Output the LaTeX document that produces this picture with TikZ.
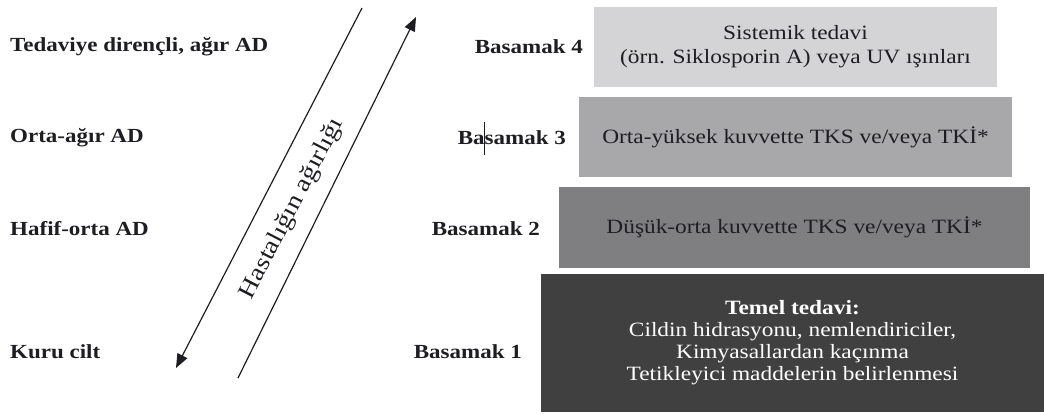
\documentclass[tikz,border=0pt]{standalone}
\usepackage{fontspec}
\setmainfont{Liberation Serif}[FakeStretch=1.15]
\usetikzlibrary{arrows.meta}
\definecolor{gfour}{HTML}{D4D4D6}
\definecolor{gthree}{HTML}{A8A8AA}
\definecolor{gtwo}{HTML}{7F7F81}
\definecolor{gone}{HTML}{404040}
\definecolor{ink}{HTML}{1E1E22}
\tikzset{
  lab/.style={font=\fontsize{20}{23}\selectfont\bfseries, text=ink, inner sep=0pt},
  stepbox/.style={rectangle, inner sep=0pt, align=center, text=ink,
     font=\fontsize{20.3}{24}\selectfont},
  arr/.style={line width=1.2pt, draw=ink, -{Triangle[length=14pt,width=11pt]}}
}
\begin{document}
\begin{tikzpicture}[x=1pt,y=-1pt]
\useasboundingbox (0,0) rectangle (1044,413);
% left labels
\node[lab, anchor=west] (l4) at (10,47) {Tedaviye dirençli, ağır AD};
\node[lab, anchor=west] (l3) at (10,138) {Orta-ağır AD};
\node[lab, anchor=west] (l2) at (10,229) {Hafif-orta AD};
\node[lab, anchor=west] (l1) at (10,352) {Kuru cilt};
% right labels
\node[lab, anchor=east] (b4) at (583,47) {Basamak 4};
\node[lab, anchor=east] (b3) at (566,138) {Basamak 3};
\node[lab, anchor=east] (b2) at (540,229) {Basamak 2};
\node[lab, anchor=east] (b1) at (522,352) {Basamak 1};
\coordinate (cura) at (484,122);
\coordinate (curb) at (484,155);
\draw[line width=0.9pt, ink] (cura) -- (curb);
% boxes
\node[stepbox, fill=gfour, minimum width=403pt, minimum height=80pt] (s4) at (795.5,47)
  {Sistemik tedavi\\(örn. Siklosporin A) veya UV ışınları};
\node[stepbox, fill=gthree, minimum width=433pt, minimum height=80pt] (s3) at (795.5,137)
  {Orta-yüksek kuvvette TKS ve/veya TKİ*};
\node[stepbox, fill=gtwo, minimum width=471pt, minimum height=81pt] (s2) at (794.5,227.5)
  {Düşük-orta kuvvette TKS ve/veya TKİ*};
\node[stepbox, fill=gone, text=white, minimum width=503pt, minimum height=138pt,
  font=\fontsize{20.3}{22}\selectfont] (s1) at (792.5,343)
  {\textbf{Temel tedavi:}\\Cildin hidrasyonu, nemlendiriciler,\\Kimyasallardan kaçınma\\Tetikleyici maddelerin belirlenmesi};
% arrows
\coordinate (da) at (362,8);
\coordinate (db) at (176,368);
\coordinate (ua) at (238,378);
\coordinate (ub) at (416,17);
\draw[arr] (da) -- (db);
\draw[arr] (ua) -- (ub);
\node[font=\fontsize{24}{28}\selectfont, text=ink, rotate=62.7, inner sep=0pt] (sev) at (292.5,208.5) {Hastalığın ağırlığı};
\end{tikzpicture}
\end{document}
